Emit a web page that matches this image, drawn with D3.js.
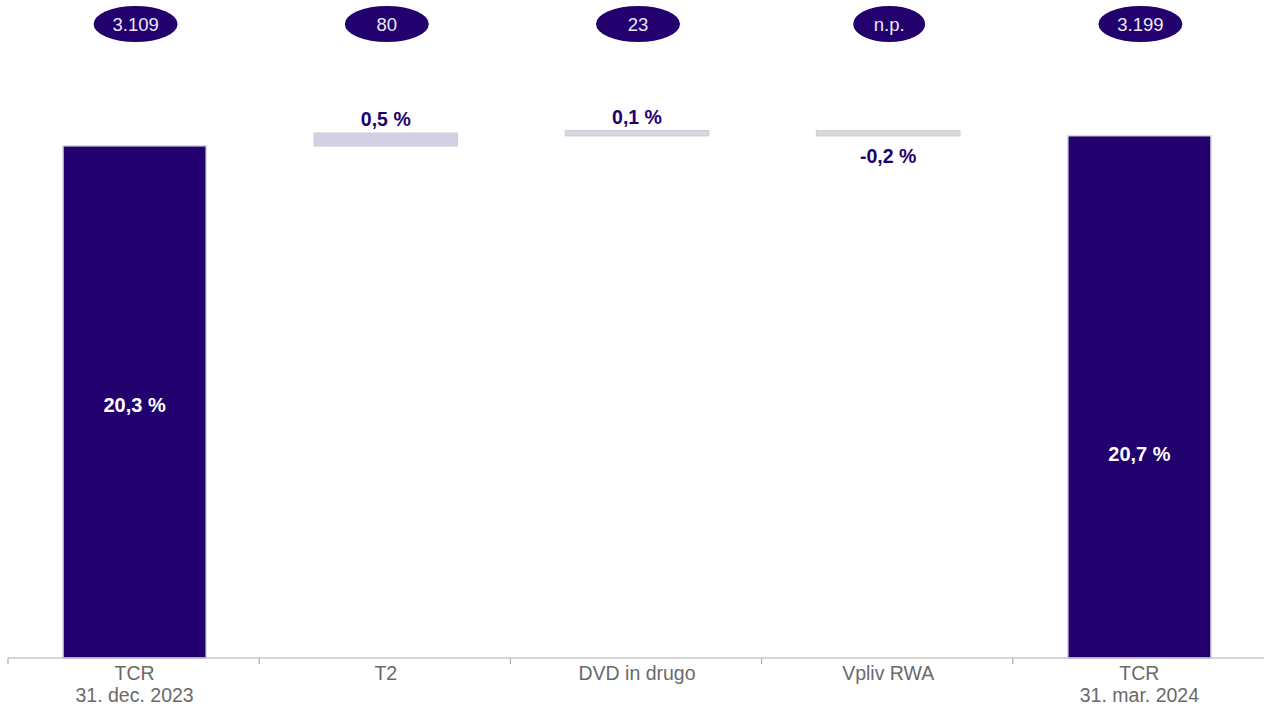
<!DOCTYPE html>
<html><head><meta charset="utf-8">
<script src="https://cdn.jsdelivr.net/npm/d3@7"></script>
<style>body{margin:0;background:#fff}svg{display:block}</style>
</head><body>
<script>
const categories = ["TCR\n31. dec. 2023", "T2", "DVD in drugo", "Vpliv RWA", "TCR\n31. mar. 2024"];
const kinds = ["total", "delta", "delta", "delta", "total"];
const values = [20.3, 0.5, 0.1, -0.2, 20.7];
const valueLabels = ["20,3 %", "0,5 %", "0,1 %", "-0,2 %", "20,7 %"];
const bubbleLabels = ["3.109", "80", "23", "n.p.", "3.199"];

const W = 1264, H = 706;
const svg = d3.select("body").append("svg").attr("width", W).attr("height", H);
const font = "'Liberation Sans', Arial, sans-serif";
const dark = "#22006e";
const fills = [dark, "#d5cfe5", "#d9d9e4", "#d9d9d9", dark];

const x = d3.scaleBand().domain(d3.range(categories.length)).range([9, 1265]).paddingInner(0.43).paddingOuter(0.215);
const xb = d3.scaleBand().domain(d3.range(categories.length)).range([8, 1264]);
const y = d3.scaleLinear().domain([0, 26]).range([658, 2]);

let run = 0;
const bars = values.map((v, i) => {
  let lo, hi;
  if (kinds[i] === "total") { lo = 0; hi = v; run = v; }
  else { const s = run; run = run + v; lo = Math.min(s, run); hi = Math.max(s, run); }
  return {i, v, lo, hi, kind: kinds[i]};
});

svg.selectAll("rect.bar").data(bars).join("rect")
  .attr("class", "bar")
  .attr("x", d => x(d.i))
  .attr("width", x.bandwidth())
  .attr("y", d => y(d.hi))
  .attr("height", d => Math.max(5, y(d.lo) - y(d.hi)))
  .attr("fill", d => fills[d.i])
  .attr("stroke", d => d.kind === "total" ? "#d8d8e0" : "#d0d0d8")
  .attr("stroke-width", 1.5);

svg.selectAll("text.val").data(bars).join("text")
  .attr("class", "val")
  .attr("x", d => x(d.i) + x.bandwidth() / 2)
  .attr("y", d => {
    if (d.kind === "total") return d.i === 0 ? y(d.hi / 2) + 10 : y(d.hi * 0.39) + 7;
    return d.v >= 0 ? y(d.hi) - 7 : y(d.lo) + 27;
  })
  .attr("text-anchor", "middle")
  .attr("font-family", font)
  .attr("font-weight", "bold")
  .attr("font-size", d => d.kind === "total" ? 20 : 19.5)
  .attr("fill", d => d.kind === "total" ? "#ffffff" : dark)
  .text(d => valueLabels[d.i]);

const bub = svg.selectAll("g.bub").data(bubbleLabels).join("g")
  .attr("class", "bub")
  .attr("transform", (d, i) => `translate(${xb(i) + xb.bandwidth() / 2 + 2},24)`);
bub.append("ellipse").attr("rx", d => d === "n.p." ? 36 : 42).attr("ry", 18).attr("fill", dark);
bub.append("text").attr("text-anchor", "middle").attr("dy", 6.5)
  .attr("font-family", font).attr("font-size", 18.5).attr("fill", "#ece8f4")
  .text(d => d);

const axisG = svg.append("g");
axisG.append("line").attr("x1", 8).attr("x2", 1264).attr("y1", 658).attr("y2", 658)
  .attr("stroke", "#b0b0b0").attr("stroke-width", 1.2);
axisG.selectAll("line.tick").data(d3.range(categories.length)).join("line")
  .attr("class", "tick")
  .attr("x1", i => xb(i)).attr("x2", i => xb(i))
  .attr("y1", 658).attr("y2", 664)
  .attr("stroke", "#b0b0b0").attr("stroke-width", 1.2);
const lab = axisG.selectAll("text.cat").data(categories).join("text")
  .attr("class", "cat")
  .attr("text-anchor", "middle")
  .attr("font-family", font).attr("font-size", 19.5).attr("fill", "#6a6a6a")
  .attr("x", (d, i) => xb(i) + xb.bandwidth() / 2 + 1)
  .attr("y", 680);
lab.selectAll("tspan").data(d => d.split("\n")).join("tspan")
  .attr("x", function() { return this.parentNode.getAttribute("x"); })
  .attr("dy", (d, j) => j === 0 ? 0 : 22)
  .text(d => d);
</script>
</body></html>
